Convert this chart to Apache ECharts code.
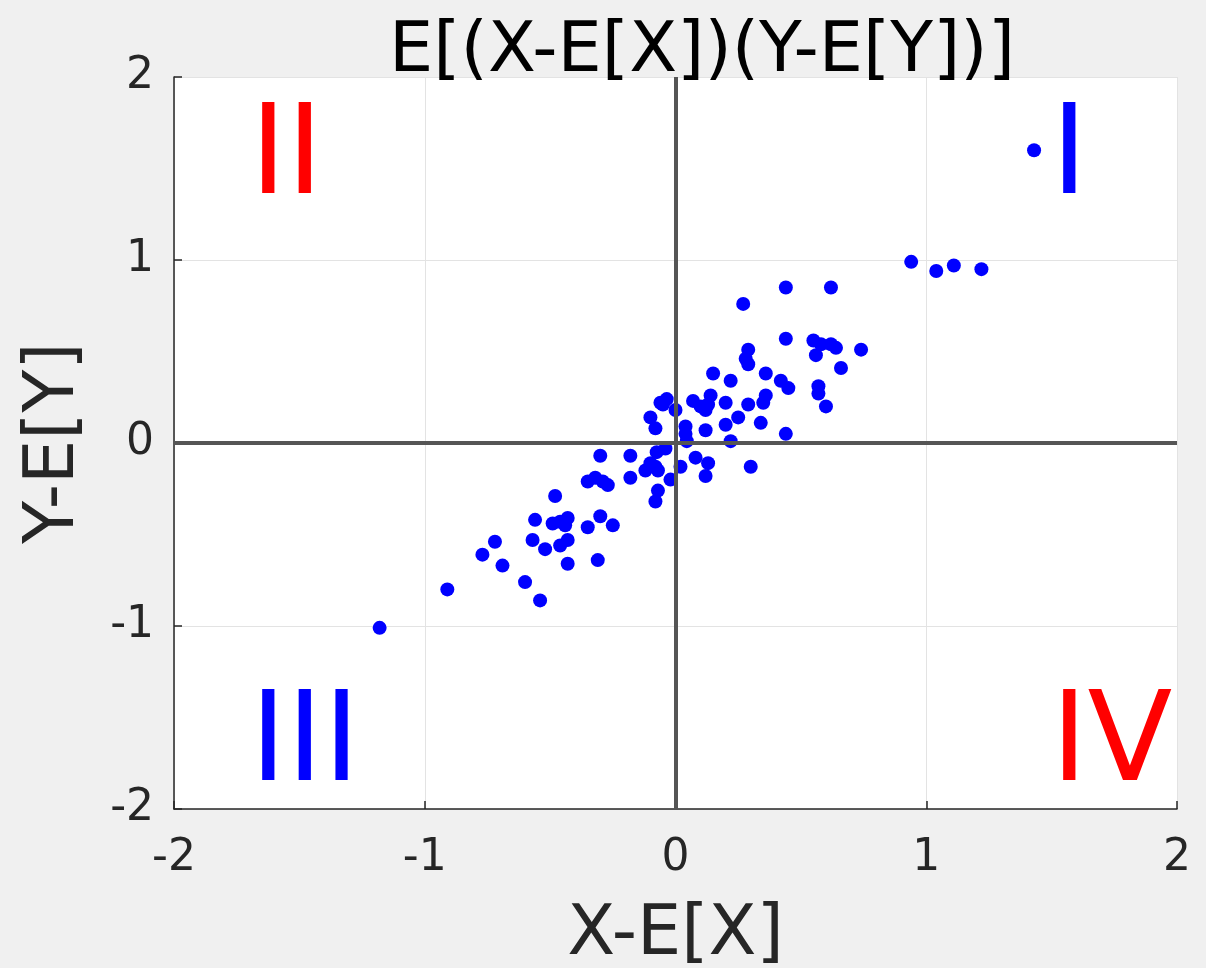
<!DOCTYPE html>
<html>
<head>
<meta charset="utf-8">
<script src="https://cdn.jsdelivr.net/npm/echarts@6/dist/echarts.min.js"></script>
<style>
  html, body { margin: 0; padding: 0; background: #f0f0f0; }
  #chart { width: 1206px; height: 968px; }
</style>
</head>
<body>
<div id="chart"></div>
<script>
const FONT = '"DejaVu Sans", Verdana, sans-serif';
const INK = "#262626";

// deviations: X - E[X] and Y - E[Y]
const xDev = [
  -1.18, -0.91, -0.77, -0.72, -0.69, -0.60, -0.54, -0.56, -0.57, -0.52,
  -0.48, -0.49, -0.46, -0.43, -0.44, -0.46, -0.43, -0.43, -0.35, -0.30,
  -0.25, -0.31, -0.30, -0.35, -0.32, -0.27, -0.29, -0.18, -0.18, -0.12,
  -0.08, -0.07, -0.07, -0.08, -0.10, -0.08, -0.05, -0.035, -0.06, 0.00,
  -0.075, -0.04, -0.02, -0.10, 0.02, 0.15, 0.22, 0.29, 0.29, 0.28,
  0.27, 0.44, 0.62, 0.44, 0.55, 0.58, 0.62, 0.64, 0.74, 0.56,
  0.66, 0.36, 0.42, 0.45, 0.57, 0.57, 0.60, 0.36, 0.35, 0.29,
  0.20, 0.07, 0.10, 0.14, 0.12, 0.13, 0.25, 0.34, 0.20, 0.12,
  0.04, 0.04, 0.045, 0.22, 0.44, 0.30, 0.08, 0.13, 0.12, 0.94,
  1.04, 1.11, 1.22, 1.43
];
const yDev = [
  -1.01, -0.80, -0.61, -0.54, -0.67, -0.76, -0.86, -0.42, -0.53, -0.58,
  -0.29, -0.44, -0.43, -0.41, -0.45, -0.56, -0.53, -0.66, -0.46, -0.40,
  -0.45, -0.64, -0.07, -0.21, -0.19, -0.23, -0.21, -0.07, -0.19, -0.15,
  -0.13, -0.15, -0.26, -0.32, 0.14, 0.08, 0.21, 0.24, 0.22, 0.18,
  -0.05, -0.03, -0.20, -0.11, -0.13, 0.38, 0.34, 0.43, 0.51, 0.46,
  0.76, 0.85, 0.85, 0.57, 0.56, 0.54, 0.54, 0.52, 0.51, 0.48,
  0.41, 0.38, 0.34, 0.30, 0.31, 0.27, 0.20, 0.26, 0.22, 0.21,
  0.22, 0.23, 0.20, 0.26, 0.18, 0.21, 0.14, 0.11, 0.10, 0.07,
  0.09, 0.05, 0.01, 0.01, 0.05, -0.13, -0.08, -0.11, -0.18, 0.99,
  0.94, 0.97, 0.95, 1.60
];
const axisTicks = [-2, -1, 0, 1, 2];
const quadrants = [
  { text: "I", color: "#0000ff", x: 1051, y: 99 },
  { text: "II", color: "#ff0000", x: 250, y: 99 },
  { text: "III", color: "#0000ff", x: 250, y: 686 },
  { text: "IV", color: "#ff0000", x: 1051, y: 686 }
];

const chart = echarts.init(document.getElementById("chart"), null, { renderer: "canvas" });

function valueAxis(name, gap, rotate) {
  return {
    type: "value",
    min: axisTicks[0],
    max: axisTicks[axisTicks.length - 1],
    interval: 1,
    name: name,
    nameLocation: "middle",
    nameGap: gap,
    nameRotate: rotate,
    nameTextStyle: { fontSize: 70, color: INK, fontFamily: FONT },
    axisLine: { show: true, onZero: false, lineStyle: { color: INK, width: 1.5 } },
    axisTick: { show: true, inside: true, length: 8, lineStyle: { color: INK, width: 1.5 } },
    axisLabel: { fontSize: 44, color: INK, fontFamily: FONT, margin: 20 },
    splitLine: { show: true, lineStyle: { color: "#e3e3e3", width: 1 } }
  };
}

const xAxis = valueAxis("X-E[X]", 92, 0);
xAxis.axisLabel.margin = 28;
const yAxis = valueAxis("Y-E[Y]", 84, 90);

chart.setOption({
  backgroundColor: "#f0f0f0",
  animation: false,
  title: {
    text: "E[(X-E[X])(Y-E[Y])]",
    left: 697,
    top: 13,
    textAlign: "center",
    textStyle: { fontSize: 70, fontWeight: "normal", color: "#000", fontFamily: FONT }
  },
  grid: {
    left: 174, right: 29, top: 77, bottom: 159,
    outerBoundsMode: "none",
    containLabel: false,
    show: true, backgroundColor: "#ffffff", borderWidth: 0
  },
  xAxis: xAxis,
  yAxis: yAxis,
  series: [
    {
      type: "scatter",
      symbol: "circle",
      symbolSize: 14,
      itemStyle: { color: "#0000ff", opacity: 1 },
      data: xDev.map((x, i) => [x, yDev[i]]),
      z: 2,
      markLine: {
        symbol: "none",
        silent: true,
        label: { show: false },
        lineStyle: { color: "#555555", width: 4, type: "solid" },
        data: [{ xAxis: 0 }, { yAxis: 0 }]
      }
    }
  ],
  graphic: quadrants.map((q) => ({
    type: "text",
    left: q.x,
    top: q.y,
    z: 10,
    style: { text: q.text, fill: q.color, fontSize: 124, fontFamily: FONT }
  }))
});
</script>
</body>
</html>
